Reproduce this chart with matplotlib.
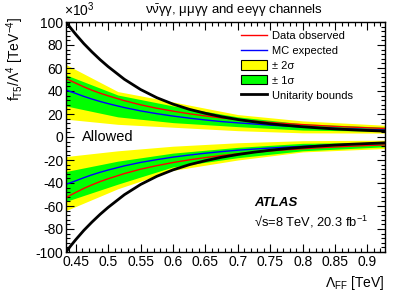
import matplotlib
matplotlib.use('Agg')
import matplotlib.pyplot as plt
from matplotlib.lines import Line2D
from matplotlib.patches import Patch
from matplotlib.ticker import MultipleLocator, FuncFormatter

plt.rcParams["font.family"] = ["Liberation Sans", "DejaVu Sans"]
plt.rcParams["mathtext.fontset"] = "custom"
plt.rcParams["mathtext.rm"] = "Liberation Sans"
plt.rcParams["mathtext.it"] = "Liberation Sans:italic"
plt.rcParams["mathtext.bf"] = "Liberation Sans:bold"
plt.rcParams["mathtext.default"] = "regular"
plt.rcParams["axes.unicode_minus"] = False

# Lambda_FF grid for the smooth curves (TeV), limits in units of 10^3
lam = [0.435, 0.4425, 0.45, 0.4625, 0.475, 0.4875, 0.5, 0.525, 0.55, 0.575, 0.6,
       0.625, 0.65, 0.675, 0.7, 0.725, 0.75, 0.775, 0.8, 0.825, 0.85, 0.875, 0.9, 0.927]
unit_hi = [100, 94.5, 89.3, 81.2, 74.0, 67.3, 61.2, 50.2, 41.3, 34.2, 28.6,
           24.1, 20.6, 17.6, 15.2, 13.2, 11.5, 10.1, 8.9, 7.9, 7.0, 6.3, 5.7, 5.1]
unit_lo = [-v for v in unit_hi]
obs_hi = [51.0, 48.8, 46.8, 43.6, 40.7, 38.1, 35.8, 31.6, 28.0, 25.0, 22.5,
          20.2, 18.3, 16.6, 15.2, 13.9, 12.7, 11.7, 10.8, 10.0, 9.2, 8.6, 8.0, 7.4]
obs_lo = [-52.8, -50.4, -48.2, -44.7, -41.6, -38.8, -36.3, -31.8, -28.0, -24.9, -22.2,
          -19.9, -17.9, -16.1, -14.6, -13.3, -12.1, -11.1, -10.2, -9.4, -8.7, -8.0, -7.4, -6.9]
exp_hi = [41.0, 39.4, 37.9, 35.3, 33.0, 30.9, 29.0, 25.6, 22.7, 20.3, 18.2,
          16.4, 14.8, 13.4, 12.3, 11.3, 10.3, 9.5, 8.7, 8.1, 7.5, 7.0, 6.5, 6.0]
exp_lo = [-41.2, -39.6, -38.1, -35.4, -32.9, -30.7, -28.7, -25.1, -22.1, -19.7, -17.5,
          -15.7, -14.1, -12.7, -11.5, -10.5, -9.6, -8.8, -8.1, -7.4, -6.9, -6.3, -5.8, -5.5]

# expected bands (coarser points)
lam_band = [0.435, 0.515, 0.6, 0.7, 0.8, 0.927]
pos_2s_up = [63, 39.5, 30.5, 19.5, 14, 10.2]
pos_1s_up = [54, 36.5, 27, 17.5, 11.5, 8.5]
pos_1s_dn = [27, 17.5, 12.5, 9, 6, 5]
pos_2s_dn = [15.5, 11, 8.5, 5.5, 3.6, 3.4]
neg_2s_up = [-17, -12, -8, -5, -3.2, -2.8]
neg_1s_up = [-30, -21, -14, -9, -5.5, -4.5]
neg_1s_dn = [-56, -41, -26, -18, -12, -8.5]
neg_2s_dn = [-64, -45, -29, -20, -13, -10]

fig = plt.figure(figsize=(4.07, 2.94), dpi=100)
ax = fig.add_axes([66 / 407, 42 / 294, 319 / 407, 230 / 294])

ax.fill_between(lam_band, pos_2s_dn, pos_2s_up, color="#ffff00", lw=0)
ax.fill_between(lam_band, pos_1s_dn, pos_1s_up, color="#00ff00", lw=0)
ax.fill_between(lam_band, neg_2s_dn, neg_2s_up, color="#ffff00", lw=0)
ax.fill_between(lam_band, neg_1s_dn, neg_1s_up, color="#00ff00", lw=0)

ax.plot(lam, obs_hi, color="#ff0000", lw=1)
ax.plot(lam, obs_lo, color="#ff0000", lw=1)
ax.plot(lam, exp_hi, color="#0000ff", lw=1)
ax.plot(lam, exp_lo, color="#0000ff", lw=1)
ax.plot(lam, unit_hi, color="black", lw=2)
ax.plot(lam, unit_lo, color="black", lw=2)

ax.set_xlim(0.435, 0.927)
ax.set_ylim(-100, 100)
ax.xaxis.set_major_locator(MultipleLocator(0.05))
ax.xaxis.set_minor_locator(MultipleLocator(0.01))
ax.yaxis.set_major_locator(MultipleLocator(20))
ax.yaxis.set_minor_locator(MultipleLocator(4))
ax.xaxis.set_major_formatter(FuncFormatter(lambda v, p: "%g" % round(v, 3)))
ax.yaxis.set_major_formatter(FuncFormatter(lambda v, p: "%d" % round(v)))
ax.tick_params(which="both", direction="in", top=True, right=True, labelsize=10)
ax.tick_params(which="major", length=6, width=0.8, pad=2)
ax.tick_params(which="minor", length=3, width=0.8)
for s in ax.spines.values():
    s.set_linewidth(1)

handles = [Line2D([], [], color="#ff0000", lw=1),
           Line2D([], [], color="#0000ff", lw=1),
           Patch(facecolor="#ffff00", edgecolor="black", lw=0.8),
           Patch(facecolor="#00ff00", edgecolor="black", lw=0.8),
           Line2D([], [], color="black", lw=2)]
labels = ["Data observed", "MC expected", "± 2σ", "± 1σ", "Unitarity bounds"]
ax.legend(handles, labels, loc="upper left", bbox_to_anchor=(0.549, 0.963),
          frameon=False, fontsize=8, borderpad=0, borderaxespad=0,
          handlelength=2.3, handleheight=0.9, handletextpad=0.5, labelspacing=0.4)

ax.text(0.459, 0, "Allowed", fontsize=10.5, ha="left", va="center")
ax.text(254 / 407, 1 - 203 / 294, "ATLAS", transform=fig.transFigure,
        fontsize=9.5, fontweight="bold", fontstyle="italic", ha="left", va="center")
ax.text(254 / 407, 1 - 222 / 294, "√s=8 TeV, 20.3 fb$^{-1}$", transform=fig.transFigure,
        fontsize=9.3, ha="left", va="center")

fig.text(234 / 407, 1 - 11 / 294,
         r"$\nu\bar{\nu}\gamma\gamma$, $\mu\mu\gamma\gamma$ and ee$\gamma\gamma$ channels",
         fontsize=9.5, ha="center", va="center")
fig.text(64 / 407, 1 - 10 / 294, r"$\times$10$^{3}$", fontsize=10, ha="left", va="center")
fig.text(15 / 407, 1 - 17 / 294, r"f$_{T5}$/$\Lambda^{4}$ [TeV$^{-4}$]",
         fontsize=10, rotation=90, ha="center", va="top")
fig.text(385 / 407, 1 - 283 / 294, r"$\Lambda_{FF}$ [TeV]", fontsize=10,
         ha="right", va="center")

fig.savefig("out.png", dpi=100)
